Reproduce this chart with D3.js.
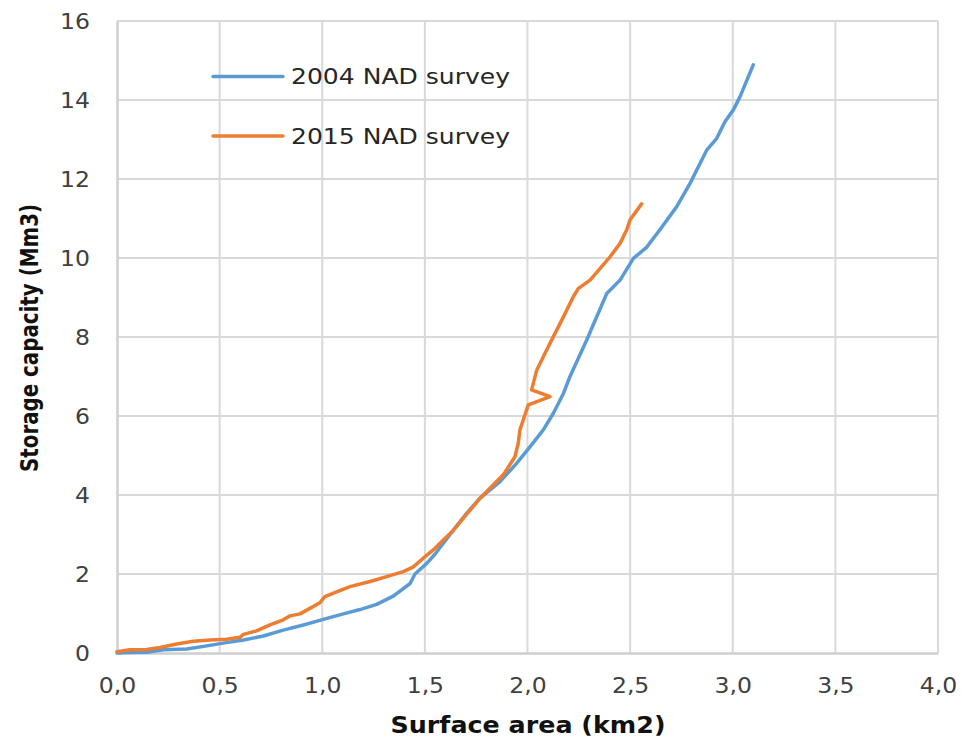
<!DOCTYPE html>
<html>
<head>
<meta charset="utf-8">
<script src="https://cdn.jsdelivr.net/npm/d3@7"></script>
<style>
  body { margin: 0; background: #fff; }
  svg { display: block; }
</style>
</head>
<body>
<div id="chart"></div>
<script>
// 2004 survey (blue)
const area2004 = [0, 0.05, 0.145, 0.226, 0.34, 0.437, 0.518, 0.616, 0.713, 0.81, 0.908, 1.005, 1.103, 1.184, 1.265, 1.346, 1.428, 1.452, 1.509, 1.549, 1.59, 1.639, 1.704, 1.769, 1.866, 1.947, 2.012, 2.077, 2.126, 2.175, 2.207, 2.288, 2.386, 2.451, 2.516, 2.58, 2.646, 2.727, 2.792, 2.841, 2.873, 2.922, 2.962, 3.003, 3.035, 3.1]
const volume2004 = [0, 0.01, 0.02, 0.08, 0.1, 0.18, 0.25, 0.33, 0.43, 0.58, 0.71, 0.85, 0.99, 1.1, 1.23, 1.44, 1.76, 2.0, 2.27, 2.5, 2.78, 3.11, 3.54, 3.92, 4.34, 4.8, 5.22, 5.65, 6.07, 6.57, 7.0, 7.92, 9.1, 9.44, 9.99, 10.27, 10.72, 11.3, 11.89, 12.4, 12.73, 13.03, 13.45, 13.75, 14.08, 14.89]

// 2015 survey (orange)
const area2015 = [0, 0.063, 0.145, 0.21, 0.29, 0.372, 0.453, 0.534, 0.6, 0.616, 0.68, 0.745, 0.81, 0.843, 0.892, 0.94, 0.99, 1.013, 1.07, 1.135, 1.233, 1.33, 1.395, 1.444, 1.492, 1.541, 1.574, 1.639, 1.769, 1.882, 1.939, 1.955, 1.963, 1.979, 2.004, 2.11, 2.02, 2.045, 2.077, 2.126, 2.175, 2.223, 2.248, 2.305, 2.402, 2.451, 2.483, 2.499, 2.556]
const volume2015 = [0.03, 0.08, 0.09, 0.14, 0.23, 0.3, 0.33, 0.35, 0.4, 0.47, 0.56, 0.71, 0.84, 0.94, 0.99, 1.13, 1.28, 1.43, 1.55, 1.68, 1.81, 1.96, 2.06, 2.18, 2.4, 2.61, 2.78, 3.11, 3.92, 4.51, 4.97, 5.31, 5.65, 5.9, 6.28, 6.49, 6.66, 7.16, 7.5, 8.01, 8.51, 9.02, 9.23, 9.44, 10.03, 10.37, 10.71, 10.96, 11.37]

const xTicks = [0, 0.5, 1, 1.5, 2, 2.5, 3, 3.5, 4]
const yTicks = [0, 2, 4, 6, 8, 10, 12, 14, 16]
const seriesNames = ["2004 NAD survey", "2015 NAD survey"]
const seriesColours = ["#5b9bd5", "#ed7d31"]

let width = 963
let height = 740
let margin = {top: 21, right: 25, bottom: 87, left: 117}

let svg = d3.select("#chart")
    .append("svg")
        .attr("width", width)
        .attr("height", height)

let x = d3.scaleLinear()
    .domain([0, 4])
    .range([margin.left, width - margin.right])

let y = d3.scaleLinear()
    .domain([0, 16])
    .range([height - margin.bottom, margin.top])

// stretch text a bit wider, the reference font is wide
function widen(sel, k){
    sel.each(function(){
        let w = this.getComputedTextLength()
        d3.select(this).attr("textLength", w * k).attr("lengthAdjust", "spacingAndGlyphs")
    })
}

//grid
svg.append("g")
    .selectAll("line")
    .data(xTicks.slice(1))
    .join("line")
    .attr("x1", d => x(d)).attr("x2", d => x(d))
    .attr("y1", y(0)).attr("y2", y(16))
    .attr("stroke", "#d9d9d9")
    .attr("stroke-width", 2)

svg.append("g")
    .selectAll("line")
    .data(yTicks.slice(1))
    .join("line")
    .attr("x1", x(0)).attr("x2", x(4))
    .attr("y1", d => y(d)).attr("y2", d => y(d))
    .attr("stroke", "#d9d9d9")
    .attr("stroke-width", 2)

//axis lines
let xAxis = svg.append("g")
    .attr("transform", `translate(0, ${y(0)})`)
    .call(d3.axisBottom(x).tickValues(xTicks).tickSize(0).tickPadding(0)
        .tickFormat(d => d3.format(".1f")(d).replace(".", ",")))
xAxis.select(".domain").attr("stroke", "#cfcfcf").attr("stroke-width", 2.5)
xAxis.selectAll("text")
    .attr("y", 40)
    .attr("dy", 0)
    .attr("font-family", "DejaVu Sans")
    .attr("font-size", 21)
    .attr("fill", "#404040")
    .call(widen, 1.12)

let yAxis = svg.append("g")
    .attr("transform", `translate(${x(0)}, 0)`)
    .call(d3.axisLeft(y).tickValues(yTicks).tickSize(0).tickPadding(0))
yAxis.select(".domain").attr("stroke", "#cfcfcf").attr("stroke-width", 2.5)
yAxis.selectAll("text")
    .attr("x", -27)
    .attr("dy", "0.36em")
    .attr("font-family", "DejaVu Sans")
    .attr("font-size", 21)
    .attr("fill", "#404040")
    .call(widen, 1.12)

//lines
let line = d3.line()
    .x(d => x(d[0]))
    .y(d => y(d[1]))

let seriesData = [
    d3.zip(area2004, volume2004),
    d3.zip(area2015, volume2015)
]

svg.append("g")
    .selectAll("path")
    .data(seriesData)
    .join("path")
    .attr("d", line)
    .attr("fill", "none")
    .attr("stroke", (d, i) => seriesColours[i])
    .attr("stroke-width", 3.5)
    .attr("stroke-linejoin", "round")
    .attr("stroke-linecap", "round")

//legend
let legend = svg.append("g")
    .selectAll("g")
    .data(seriesNames)
    .join("g")
    .attr("transform", (d, i) => `translate(213, ${76.5 + i * 59.5})`)

legend.append("line")
    .attr("x1", 0).attr("x2", 70)
    .attr("stroke", (d, i) => seriesColours[i])
    .attr("stroke-width", 3.5)
    .attr("stroke-linecap", "round")

legend.append("text")
    .attr("x", 78)
    .attr("dy", "0.36em")
    .attr("font-family", "DejaVu Sans")
    .attr("font-size", 22)
    .attr("fill", "#262626")
    .attr("textLength", 219)
    .attr("lengthAdjust", "spacingAndGlyphs")
    .text(d => d)

//axis titles
svg.append("text")
    .attr("x", 528)
    .attr("y", 733)
    .attr("text-anchor", "middle")
    .attr("font-family", "DejaVu Sans")
    .attr("font-weight", "bold")
    .attr("font-size", 23)
    .attr("fill", "#111")
    .attr("textLength", 275)
    .attr("lengthAdjust", "spacingAndGlyphs")
    .text("Surface area (km2)")

svg.append("text")
    .attr("transform", "translate(38, 338) rotate(-90)")
    .attr("text-anchor", "middle")
    .attr("font-family", "DejaVu Sans")
    .attr("font-weight", "bold")
    .attr("font-size", 24)
    .attr("fill", "#111")
    .attr("textLength", 268)
    .attr("lengthAdjust", "spacingAndGlyphs")
    .text("Storage capacity (Mm3)")
</script>
</body>
</html>
